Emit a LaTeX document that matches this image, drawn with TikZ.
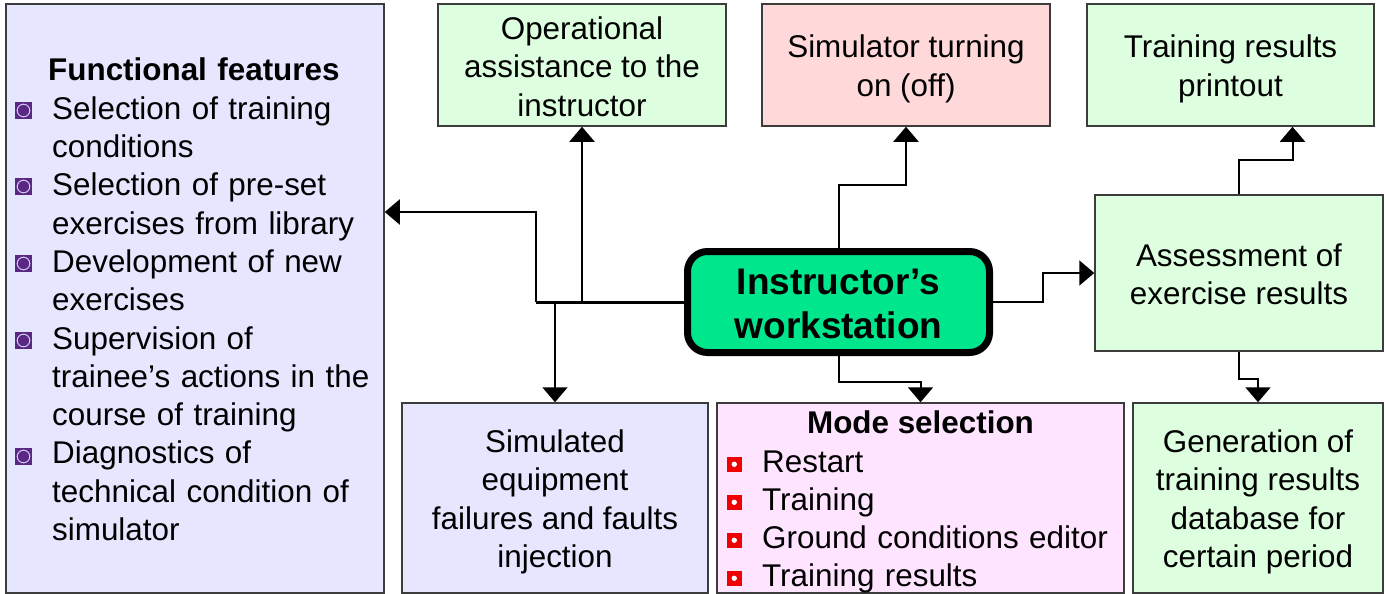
\documentclass[tikz,border=0pt]{standalone}
\usepackage{fontspec}
\setmainfont{Liberation Sans}
\usetikzlibrary{arrows.meta}

\definecolor{lavender}{RGB}{230,230,255}
\definecolor{mint}{RGB}{221,255,224}
\definecolor{rose}{RGB}{255,217,217}
\definecolor{orchid}{RGB}{255,228,255}
\definecolor{wsgreen}{RGB}{0,230,140}
\definecolor{boxline}{RGB}{60,60,60}
\definecolor{bulpurple}{RGB}{90,40,130}
\definecolor{bulring}{RGB}{205,200,240}
\definecolor{bulred}{RGB}{240,0,0}

\tikzset{
  basefont/.style={font=\fontsize{31.4}{38.3}\selectfont},
  box/.style={draw=boxline, line width=1.5pt, inner sep=0pt},
  boxtext/.style={inner sep=0pt, align=center, basefont},
  hub/.style={draw=black, line width=7pt, rounded corners=20pt, fill=wsgreen, inner sep=0pt},
  hubtext/.style={inner sep=0pt, align=center, font=\fontsize{37}{44}\selectfont\bfseries},
  listtext/.style={inner sep=0pt, align=left, basefont},
  conn/.style={draw=black, line width=2pt, -{Triangle[width=25pt,length=15pt]}},
  trunk/.style={draw=black, line width=3pt}
}

\begin{document}
\begin{tikzpicture}[x=1pt,y=-1pt]
\useasboundingbox (0,0) rectangle (1389,594);

% boxes
\node[box, fill=lavender, minimum width=378pt, minimum height=589pt] (feat) at (195,298.5) {};
\node[box, fill=mint, minimum width=288pt, minimum height=122pt] (op) at (582,65) {};
\node[box, fill=rose, minimum width=288pt, minimum height=122pt] (turn) at (906,65) {};
\node[box, fill=mint, minimum width=287pt, minimum height=122pt] (print) at (1230.5,65) {};
\node[box, fill=mint, minimum width=288pt, minimum height=156pt] (assess) at (1239,273) {};
\node[box, fill=lavender, minimum width=306pt, minimum height=190pt] (sim) at (555,498) {};
\node[box, fill=orchid, minimum width=407pt, minimum height=190pt] (mode) at (920.5,498) {};
\node[box, fill=mint, minimum width=250pt, minimum height=190pt] (gen) at (1258,498) {};

% box texts
\node[boxtext] (optext) at ([yshift=-1.5pt]op.center) {Operational\\assistance to the\\instructor};
\node[boxtext] (turntext) at ([yshift=-4pt]turn.center) {Simulator turning\\on (off)};
\node[boxtext] (printtext) at ([yshift=-4pt]print.center) {Training results\\printout};
\node[boxtext] (assesstext) at ([yshift=-1.5pt]assess.center) {Assessment of\\exercise results};
\node[boxtext] (simtext) at ([yshift=-4pt]sim.center) {Simulated\\equipment\\failures and faults\\injection};
\node[boxtext] (gentext) at ([yshift=-4pt]gen.center) {Generation of\\training results\\database for\\certain period};

% feature list
\node[listtext, text width=330pt, anchor=base west] (featlist) at (52,81)
  {\hspace*{-4pt}\textbf{Functional features}\\
   Selection of training\\conditions\\
   Selection of pre-set\\exercises from library\\
   Development of new\\exercises\\
   Supervision of\\trainee’s actions in the\\course of training\\
   Diagnostics of\\technical condition of\\simulator};
\foreach \b in {119,195,272,349,465}{
  \fill[bulpurple] (15,\b) rectangle ++(17,-17);
  \draw[bulring, line width=1pt] (23.5,\b-8.5) circle (6.3);
}

% mode list
\node[inner sep=0pt, font=\fontsize{31.4}{38.3}\selectfont\bfseries, anchor=base] (modehead) at (920.5,433)
  {Mode selection};
\node[listtext, text width=360pt, anchor=base west] (modelist) at (762,472)
  {Restart\\Training\\Ground conditions editor\\Training results};
\foreach \b in {471.5,509.5,547.5,585.5}{
  \fill[bulred] (727,\b) rectangle ++(14.5,-14.5);
  \fill[white] (734.25,\b-7.25) circle (2.7);
}

% central workstation
\node[hub, minimum width=302pt, minimum height=101pt] (ws) at (838.5,302) {};
\node[hubtext] (wstext) at ([yshift=-1.5pt]ws.center) {Instructor’s\\workstation};

% connectors
\coordinate (jl) at (536,302);
\draw[trunk] (ws.west) -- (jl);
\draw[conn] (jl) |- (feat.east |- 0,212);
\draw[conn] (ws.west -| op.south) -- (op.south);
\draw[conn] (ws.west -| sim.north) -- (sim.north);
\draw[conn] (ws.north) -- ++(0,-63.5) -| (turn.south);
\draw[conn] (ws.south) -- ++(0,25.5) -| (mode.north);
\draw[conn] (ws.east) -- ++(50,0) |- (assess.west);
\draw[conn] (assess.north) -- ++(0,-34) -| ([xshift=62pt]print.south);
\draw[conn] (assess.south) -- ++(0,27) -| (gen.north);
\end{tikzpicture}
\end{document}
